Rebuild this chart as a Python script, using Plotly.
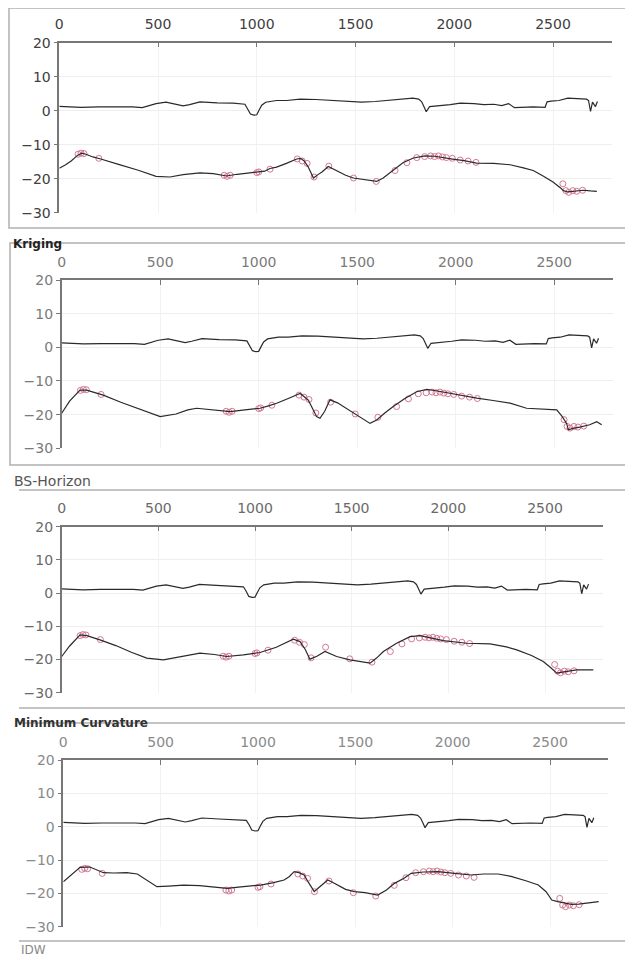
import plotly.graph_objects as go

# ---------------- data ----------------
x_ticks = [0, 500, 1000, 1500, 2000, 2500]
y_ticks = [20, 10, 0, -10, -20, -30]
panel_names = ["Kriging", "BS-Horizon", "Minimum Curvature", "IDW"]

# ground surface (shared by all panels)
surf_x = [0, 60, 110, 200, 300, 370, 420, 460, 490, 540, 580, 627, 660, 712, 800, 880,
          940, 955, 968, 985, 1000, 1012, 1025, 1045, 1100, 1150, 1220, 1300, 1380, 1460,
          1530, 1600, 1680, 1760, 1790, 1820, 1835, 1848, 1858, 1875, 1920, 1980, 2030,
          2100, 2150, 2200, 2240, 2275, 2305, 2340, 2400, 2460, 2470, 2490, 2530, 2575,
          2600, 2640, 2670, 2680, 2690, 2700, 2715, 2725]
surf_y = [1.3, 1.2, 1.0, 1.1, 1.2, 1.1, 0.9, 1.6, 2.1, 2.5, 2.0, 1.4, 1.8, 2.6, 2.3, 2.2,
          1.9, 0.5, -1.0, -1.3, -1.2, 0.2, 1.6, 2.5, 3.0, 3.0, 3.4, 3.3, 3.0, 2.6,
          2.5, 2.7, 3.2, 3.6, 3.7, 3.4, 2.6, 1.0, -0.3, 1.2, 1.4, 1.8, 2.2,
          2.1, 1.8, 1.9, 1.5, 2.1, 0.9, 1.0, 1.1, 1.0, 2.6, 2.8, 3.0, 3.7,
          3.6, 3.4, 3.4, 3.0, -0.2, 2.5, 1.2, 2.7]

# interpolated horizon, Kriging
krig_x = [0, 30, 60, 95, 115, 135, 170, 210, 300, 400, 490, 560, 627, 712, 780, 847, 900,
          1000, 1040, 1067, 1100, 1150, 1202, 1222, 1240, 1260, 1287, 1310, 1330, 1362, 1400,
          1450, 1489, 1540, 1607, 1640, 1692, 1740, 1793, 1852, 1900, 1945, 2000, 2050, 2113,
          2200, 2283, 2350, 2400, 2452, 2500, 2540, 2553, 2575, 2604, 2630, 2655, 2690, 2722]
krig_y = [-16.9, -16.0, -14.8, -13.0, -12.5, -12.8, -13.6, -14.2, -15.8, -17.5, -19.3, -19.5,
          -18.8, -18.3, -18.5, -19.2, -18.7, -18.2, -17.8, -17.0, -16.6, -15.5, -14.2, -14.0,
          -14.8, -16.5, -19.8, -18.8, -18.0, -16.4, -17.5, -19.0, -19.8, -20.3, -20.8, -19.8,
          -17.4, -15.3, -13.9, -13.3, -13.4, -13.9, -14.3, -14.7, -15.4, -15.5, -15.9, -16.8,
          -17.6, -19.3, -21.0, -22.8, -23.5, -23.9, -23.7, -23.6, -23.4, -23.6, -23.7]

# BS-Horizon
bsh_x = [0, 40, 93, 127, 160, 211, 300, 400, 500, 580, 640, 685, 760, 855, 930, 1007, 1050,
         1091, 1150, 1210, 1230, 1252, 1294, 1311, 1335, 1362, 1400, 1430, 1480, 1530, 1565,
         1599, 1640, 1683, 1740, 1802, 1853, 1900, 1971, 2040, 2107, 2190, 2276, 2360, 2440,
         2513, 2540, 2563, 2572, 2600, 2630, 2680, 2716, 2741]
bsh_y = [-19.6, -16.0, -12.7, -12.7, -13.3, -14.2, -16.3, -18.5, -20.6, -19.8, -18.6, -18.1,
         -18.6, -19.1, -18.6, -18.1, -17.4, -16.6, -15.2, -13.7, -14.6, -15.7, -20.6, -21.1,
         -19.0, -15.6, -16.5, -17.6, -19.5, -21.5, -22.6, -21.6, -19.5, -17.6, -15.3, -13.2,
         -12.5, -12.9, -13.7, -14.3, -15.1, -15.8, -16.6, -18.1, -18.4, -18.6, -20.5, -22.6,
         -24.5, -24.0, -23.7, -23.0, -22.1, -23.0]

# Minimum Curvature
minc_x = [0, 40, 95, 130, 198, 280, 360, 440, 526, 600, 715, 790, 853, 940, 1026, 1110, 1198,
          1233, 1260, 1284, 1320, 1362, 1422, 1491, 1550, 1595, 1630, 1664, 1730, 1802, 1854,
          1900, 1974, 2095, 2216, 2300, 2354, 2430, 2491, 2530, 2561, 2590, 2613, 2664, 2750]
minc_y = [-19.1, -16.0, -12.6, -12.8, -14.1, -15.8, -17.8, -19.6, -20.1, -19.3, -18.1, -18.5,
          -19.1, -18.6, -17.9, -16.3, -13.9, -14.6, -17.0, -19.9, -19.0, -17.6, -19.1, -20.1,
          -20.6, -21.1, -19.5, -17.6, -15.2, -13.1, -12.8, -13.4, -14.3, -15.1, -15.3, -16.2,
          -17.1, -18.8, -20.6, -22.5, -24.1, -23.8, -23.6, -23.1, -23.1]

# IDW
idw_x = [0, 40, 86, 137, 170, 206, 260, 326, 380, 430, 481, 540, 618, 700, 842, 900, 1014,
         1080, 1134, 1160, 1186, 1210, 1237, 1260, 1289, 1310, 1358, 1380, 1409, 1450, 1495,
         1550, 1615, 1660, 1701, 1750, 1787, 1850, 1924, 1970, 2010, 2096, 2160, 2234, 2300,
         2380, 2440, 2480, 2509, 2540, 2578, 2610, 2647, 2700, 2750]
idw_y = [-16.5, -14.5, -12.2, -12.1, -13.0, -13.8, -13.9, -13.8, -14.2, -16.0, -18.0, -17.8,
         -17.5, -17.7, -18.5, -18.1, -17.5, -16.8, -16.0, -15.0, -13.5, -13.8, -14.5, -16.8,
         -19.5, -18.4, -16.0, -16.6, -17.5, -18.8, -19.5, -19.8, -20.5, -19.0, -17.0, -15.5,
         -14.0, -13.6, -13.5, -13.7, -14.0, -14.5, -14.2, -14.2, -14.9, -16.3, -17.5, -19.5,
         -22.0, -22.5, -23.0, -23.3, -23.2, -22.9, -22.5]

# borehole picks (shared)
well_x = [95, 110, 125, 200, 835, 850, 865, 1000, 1010, 1067, 1205, 1230, 1255, 1290, 1365,
          1490, 1605, 1700, 1760, 1810, 1850, 1880, 1900, 1920, 1940, 1960, 1990, 2030, 2070,
          2110, 2550, 2565, 2580, 2600, 2620, 2650]
well_y = [-12.8, -12.5, -12.6, -14.0, -19.0, -19.3, -19.0, -18.2, -18.0, -17.2, -14.2, -14.8,
          -15.5, -19.5, -16.3, -19.8, -20.8, -17.6, -15.3, -13.8, -13.5, -13.3, -13.5, -13.3,
          -13.6, -13.8, -14.0, -14.5, -14.8, -15.2, -21.5, -23.5, -24.0, -23.5, -23.7, -23.4]

horizons = [(krig_x, krig_y), (bsh_x, bsh_y), (minc_x, minc_y), (idw_x, idw_y)]

# ---------------- layout geometry (window pixels) ----------------
WIN_W, WIN_H = 633, 961
OFF = 8                       # page body margin of the html page
W, H = WIN_W - OFF, WIN_H - OFF

def px(xp):
    return (xp - OFF) / W

def py(yp):
    return 1 - (yp - OFF) / H

# (x of value 0, x of value 2500, y of 20, y of -30)
geom = [(59.3, 553.0, 42.7, 212.7),
        (61.7, 554.2, 280.0, 448.3),
        (61.7, 545.0, 526.7, 692.7),
        (63.3, 550.0, 760.0, 926.7)]
tick_colors = ["#404040", "#7a7a7a", "#6a6a6a", "#8a8a8a"]
X_MAX = 2800

fig = go.Figure()
layout = dict(width=W, height=H, margin=dict(l=0, r=0, t=0, b=0, pad=0),
              paper_bgcolor="white", plot_bgcolor="white", showlegend=False)

for i, (hx, hy) in enumerate(horizons):
    n = "" if i == 0 else str(i + 1)
    x0, x25, ytop, ybot = geom[i]
    ppu = (x25 - x0) / 2500.0
    xend = x0 + ppu * X_MAX
    layout["xaxis" + n] = dict(
        domain=[px(x0), px(xend)], range=[0, X_MAX], side="top", automargin=False,
        anchor="y" + n, tickvals=x_ticks, ticks="inside", ticklen=5,
        tickcolor="#777", showline=True, linecolor="#777", linewidth=1.5,
        showgrid=True, gridcolor="#f2f2f2", zeroline=False,
        tickfont=dict(family="DejaVu Sans", size=14, color=tick_colors[i]),
        ticklabelstandoff=6, fixedrange=True)
    layout["yaxis" + n] = dict(
        domain=[py(ybot), py(ytop)], range=[-30, 20], anchor="x" + n,
        automargin=False,
        tickvals=y_ticks, ticks="outside", ticklen=4, tickcolor="#777",
        showline=True, linecolor="#777", linewidth=1.5,
        showgrid=True, gridcolor="#eeeeee", zeroline=False,
        tickfont=dict(family="DejaVu Sans", size=14, color=tick_colors[i]),
        fixedrange=True)
    xa, ya = "x" + n, "y" + n
    fig.add_trace(go.Scatter(x=well_x, y=well_y, xaxis=xa, yaxis=ya, mode="markers",
                             marker=dict(symbol="circle-open", size=6,
                                         color="#d0607f", line=dict(width=1)),
                             opacity=0.85, hoverinfo="skip"))
    fig.add_trace(go.Scatter(x=surf_x, y=surf_y, xaxis=xa, yaxis=ya, mode="lines",
                             line=dict(color="#2a2a2a", width=1.2), hoverinfo="skip"))
    fig.add_trace(go.Scatter(x=hx, y=hy, xaxis=xa, yaxis=ya, mode="lines",
                             line=dict(color="#2a2a2a", width=1.2), hoverinfo="skip"))

# panel frames
shapes = []
frame_col = "#b0b0b0"
# panel 1 and 2: full rectangles
for (l, t, r, b) in [(9, 8, 628, 228), (10, 243, 631, 465)]:
    shapes.append(dict(type="rect", xref="paper", yref="paper", x0=px(l), x1=px(r),
                       y0=py(b), y1=py(t), line=dict(color=frame_col, width=1.5)))
# panel 3 and 4: top and bottom lines only
for yl in [490, 708, 723, 941]:
    shapes.append(dict(type="line", xref="paper", yref="paper", x0=px(19), x1=px(633),
                       y0=py(yl), y1=py(yl), line=dict(color=frame_col, width=1.5)))
layout["shapes"] = shapes

annotations = [
    dict(text="<b>Kriging</b>", x=px(11), y=py(244), font=dict(family="DejaVu Sans", size=12, color="#222")),
    dict(text="BS-Horizon", x=px(12), y=py(481), font=dict(family="DejaVu Sans", size=14, color="#555")),
    dict(text="<b>Minimum Curvature</b>", x=px(12), y=py(723), font=dict(family="DejaVu Sans", size=12, color="#333")),
    dict(text="IDW", x=px(19), y=py(950), font=dict(family="DejaVu Sans", size=12, color="#888")),
]
for a in annotations:
    a.update(xref="paper", yref="paper", xanchor="left", yanchor="middle", showarrow=False)
layout["annotations"] = annotations

fig.update_layout(**layout)
fig.write_html("out.html")
